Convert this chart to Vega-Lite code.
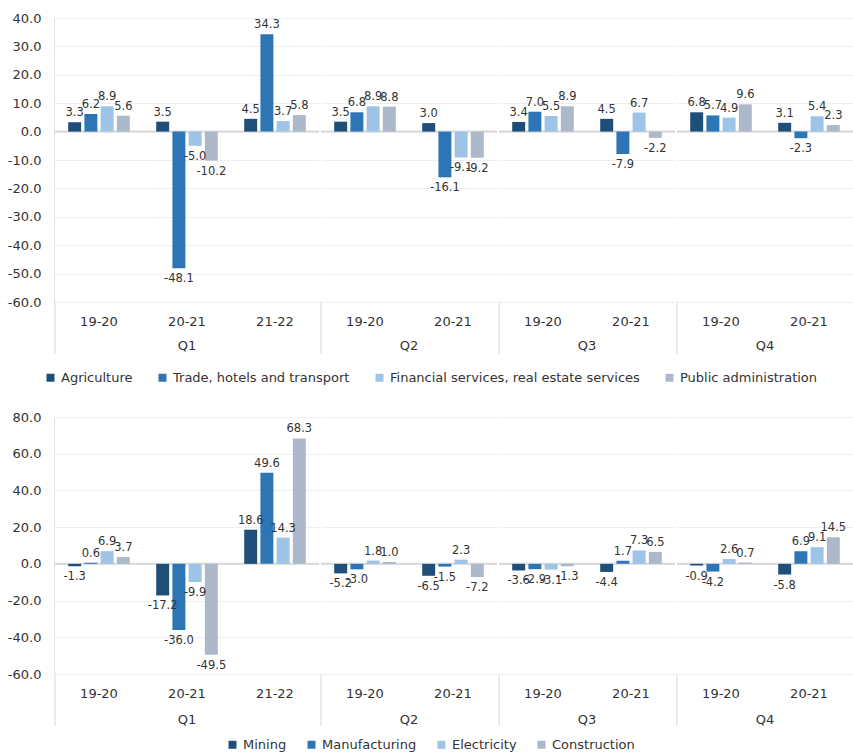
{
  "$schema": "https://vega.github.io/schema/vega-lite/v6.json",
  "padding": {"left": 7, "top": 12, "right": 0, "bottom": 0},
  "background": "white",
  "config": {
    "font": "DejaVu Sans",
    "view": {"stroke": null},
    "axis": {"labelFont": "DejaVu Sans", "labelColor": "#333333", "labelFontSize": 13, "title": null},
    "header": {"labelFont": "DejaVu Sans", "labelColor": "#333333", "labelFontSize": 13, "labelOrient": "bottom", "labelPadding": -15, "title": null},
    "legend": {"labelFont": "DejaVu Sans", "labelColor": "#333333", "labelFontSize": 13, "labelLimit": 500, "symbolType": "square", "symbolSize": 64, "symbolStrokeWidth": 0, "labelOffset": 4, "columnPadding": 22, "orient": "bottom", "direction": "horizontal", "title": null, "offset": 16, "layout": {"bottom": {"anchor": "middle"}}},
    "concat": {"spacing": 26}
  },
  "resolve": {"scale": {"color": "independent"}, "legend": {"color": "independent"}},
  "datasets": {
    "top": [
      {"quarter": "Q1", "year": "19-20", "sector": "Agriculture", "value": 3.3},
      {"quarter": "Q1", "year": "19-20", "sector": "Trade, hotels and transport", "value": 6.2},
      {"quarter": "Q1", "year": "19-20", "sector": "Financial services, real estate services", "value": 8.9},
      {"quarter": "Q1", "year": "19-20", "sector": "Public administration", "value": 5.6},
      {"quarter": "Q1", "year": "20-21", "sector": "Agriculture", "value": 3.5},
      {"quarter": "Q1", "year": "20-21", "sector": "Trade, hotels and transport", "value": -48.1},
      {"quarter": "Q1", "year": "20-21", "sector": "Financial services, real estate services", "value": -5.0},
      {"quarter": "Q1", "year": "20-21", "sector": "Public administration", "value": -10.2},
      {"quarter": "Q1", "year": "21-22", "sector": "Agriculture", "value": 4.5},
      {"quarter": "Q1", "year": "21-22", "sector": "Trade, hotels and transport", "value": 34.3},
      {"quarter": "Q1", "year": "21-22", "sector": "Financial services, real estate services", "value": 3.7},
      {"quarter": "Q1", "year": "21-22", "sector": "Public administration", "value": 5.8},
      {"quarter": "Q2", "year": "19-20", "sector": "Agriculture", "value": 3.5},
      {"quarter": "Q2", "year": "19-20", "sector": "Trade, hotels and transport", "value": 6.8},
      {"quarter": "Q2", "year": "19-20", "sector": "Financial services, real estate services", "value": 8.9},
      {"quarter": "Q2", "year": "19-20", "sector": "Public administration", "value": 8.8},
      {"quarter": "Q2", "year": "20-21", "sector": "Agriculture", "value": 3.0},
      {"quarter": "Q2", "year": "20-21", "sector": "Trade, hotels and transport", "value": -16.1},
      {"quarter": "Q2", "year": "20-21", "sector": "Financial services, real estate services", "value": -9.1},
      {"quarter": "Q2", "year": "20-21", "sector": "Public administration", "value": -9.2},
      {"quarter": "Q3", "year": "19-20", "sector": "Agriculture", "value": 3.4},
      {"quarter": "Q3", "year": "19-20", "sector": "Trade, hotels and transport", "value": 7.0},
      {"quarter": "Q3", "year": "19-20", "sector": "Financial services, real estate services", "value": 5.5},
      {"quarter": "Q3", "year": "19-20", "sector": "Public administration", "value": 8.9},
      {"quarter": "Q3", "year": "20-21", "sector": "Agriculture", "value": 4.5},
      {"quarter": "Q3", "year": "20-21", "sector": "Trade, hotels and transport", "value": -7.9},
      {"quarter": "Q3", "year": "20-21", "sector": "Financial services, real estate services", "value": 6.7},
      {"quarter": "Q3", "year": "20-21", "sector": "Public administration", "value": -2.2},
      {"quarter": "Q4", "year": "19-20", "sector": "Agriculture", "value": 6.8},
      {"quarter": "Q4", "year": "19-20", "sector": "Trade, hotels and transport", "value": 5.7},
      {"quarter": "Q4", "year": "19-20", "sector": "Financial services, real estate services", "value": 4.9},
      {"quarter": "Q4", "year": "19-20", "sector": "Public administration", "value": 9.6},
      {"quarter": "Q4", "year": "20-21", "sector": "Agriculture", "value": 3.1},
      {"quarter": "Q4", "year": "20-21", "sector": "Trade, hotels and transport", "value": -2.3},
      {"quarter": "Q4", "year": "20-21", "sector": "Financial services, real estate services", "value": 5.4},
      {"quarter": "Q4", "year": "20-21", "sector": "Public administration", "value": 2.3}
    ],
    "bottom": [
      {"quarter": "Q1", "year": "19-20", "sector": "Mining", "value": -1.3},
      {"quarter": "Q1", "year": "19-20", "sector": "Manufacturing", "value": 0.6},
      {"quarter": "Q1", "year": "19-20", "sector": "Electricity", "value": 6.9},
      {"quarter": "Q1", "year": "19-20", "sector": "Construction", "value": 3.7},
      {"quarter": "Q1", "year": "20-21", "sector": "Mining", "value": -17.2},
      {"quarter": "Q1", "year": "20-21", "sector": "Manufacturing", "value": -36.0},
      {"quarter": "Q1", "year": "20-21", "sector": "Electricity", "value": -9.9},
      {"quarter": "Q1", "year": "20-21", "sector": "Construction", "value": -49.5},
      {"quarter": "Q1", "year": "21-22", "sector": "Mining", "value": 18.6},
      {"quarter": "Q1", "year": "21-22", "sector": "Manufacturing", "value": 49.6},
      {"quarter": "Q1", "year": "21-22", "sector": "Electricity", "value": 14.3},
      {"quarter": "Q1", "year": "21-22", "sector": "Construction", "value": 68.3},
      {"quarter": "Q2", "year": "19-20", "sector": "Mining", "value": -5.2},
      {"quarter": "Q2", "year": "19-20", "sector": "Manufacturing", "value": -3.0},
      {"quarter": "Q2", "year": "19-20", "sector": "Electricity", "value": 1.8},
      {"quarter": "Q2", "year": "19-20", "sector": "Construction", "value": 1.0},
      {"quarter": "Q2", "year": "20-21", "sector": "Mining", "value": -6.5},
      {"quarter": "Q2", "year": "20-21", "sector": "Manufacturing", "value": -1.5},
      {"quarter": "Q2", "year": "20-21", "sector": "Electricity", "value": 2.3},
      {"quarter": "Q2", "year": "20-21", "sector": "Construction", "value": -7.2},
      {"quarter": "Q3", "year": "19-20", "sector": "Mining", "value": -3.6},
      {"quarter": "Q3", "year": "19-20", "sector": "Manufacturing", "value": -2.9},
      {"quarter": "Q3", "year": "19-20", "sector": "Electricity", "value": -3.1},
      {"quarter": "Q3", "year": "19-20", "sector": "Construction", "value": -1.3},
      {"quarter": "Q3", "year": "20-21", "sector": "Mining", "value": -4.4},
      {"quarter": "Q3", "year": "20-21", "sector": "Manufacturing", "value": 1.7},
      {"quarter": "Q3", "year": "20-21", "sector": "Electricity", "value": 7.3},
      {"quarter": "Q3", "year": "20-21", "sector": "Construction", "value": 6.5},
      {"quarter": "Q4", "year": "19-20", "sector": "Mining", "value": -0.9},
      {"quarter": "Q4", "year": "19-20", "sector": "Manufacturing", "value": -4.2},
      {"quarter": "Q4", "year": "19-20", "sector": "Electricity", "value": 2.6},
      {"quarter": "Q4", "year": "19-20", "sector": "Construction", "value": 0.7},
      {"quarter": "Q4", "year": "20-21", "sector": "Mining", "value": -5.8},
      {"quarter": "Q4", "year": "20-21", "sector": "Manufacturing", "value": 6.9},
      {"quarter": "Q4", "year": "20-21", "sector": "Electricity", "value": 9.1},
      {"quarter": "Q4", "year": "20-21", "sector": "Construction", "value": 14.5}
    ]
  },
  "vconcat": [
    {
      "data": {"name": "top"},
      "transform": [{"calculate": "replace(format(datum.value, '.1f'), '\u2212', '-')", "as": "label"}],
      "facet": {"column": {"field": "quarter", "type": "nominal", "header": {"labelOrient": "bottom", "title": null}}},
      "spacing": 0,
      "resolve": {"scale": {"x": "independent", "xOffset": "independent"}},
      "spec": {
        "width": {"step": 88, "for": "position"},
        "height": 284,
        "encoding": {
          "x": {"field": "year", "type": "nominal", "scale": {"paddingInner": 0.3, "paddingOuter": 0.15},
                "axis": {"ticks": false, "domain": false, "labelAngle": 0, "labelPadding": 13, "grid": false, "title": null}},
          "y": {"field": "value", "type": "quantitative",
                "scale": {"domain": [-60, 40], "nice": false, "zero": false},
                "axis": {"values": [-60, -50, -40, -30, -20, -10, 0, 10, 20, 30, 40], "format": ".1f", "labelExpr": "replace(datum.label, '\u2212', '-')", "ticks": false, "labelPadding": 13,
                         "grid": true, "gridColor": "#eeeeee", "domain": true, "domainColor": "#e0e0e0", "title": null}}
        },
        "layer": [
          {
            "transform": [{"filter": "datum.year === '19-20' && datum.sector === 'Agriculture'"}],
            "mark": {"type": "rule", "color": "#d9d9d9", "strokeWidth": 2},
            "encoding": {"x": null, "y": {"datum": 0, "type": "quantitative"}}
          },
          {
            "mark": {"type": "bar"},
            "encoding": {
              "xOffset": {"field": "sector", "type": "nominal", "sort": ["Agriculture", "Trade, hotels and transport", "Financial services, real estate services", "Public administration"], "scale": {"paddingInner": 0.2}},
              "color": {"field": "sector", "type": "nominal",
                        "scale": {"domain": ["Agriculture", "Trade, hotels and transport", "Financial services, real estate services", "Public administration"],
                                  "range": ["#1F4E79", "#2E75B6", "#9DC3E6", "#ADB9CA"]},
                        "legend": {"title": null, "columnPadding": 23}}
            }
          },
          {
            "transform": [{"filter": "datum.value >= 0"}],
            "mark": {"type": "text", "baseline": "bottom", "dy": -4, "fontSize": 11.5, "color": "#333333"},
            "encoding": {
              "xOffset": {"field": "sector", "type": "nominal", "sort": ["Agriculture", "Trade, hotels and transport", "Financial services, real estate services", "Public administration"]},
              "text": {"field": "label", "type": "nominal"}
            }
          },
          {
            "transform": [{"filter": "datum.value < 0"}],
            "mark": {"type": "text", "baseline": "top", "dy": 5, "fontSize": 11.5, "color": "#333333"},
            "encoding": {
              "xOffset": {"field": "sector", "type": "nominal", "sort": ["Agriculture", "Trade, hotels and transport", "Financial services, real estate services", "Public administration"]},
              "text": {"field": "label", "type": "nominal"}
            }
          },
          {
            "transform": [{"filter": "datum.year === '19-20' && datum.sector === 'Agriculture'"}],
            "mark": {"type": "rule", "color": "#d9d9d9", "strokeWidth": 1},
            "encoding": {
              "x": {"field": "year", "type": "nominal", "bandPosition": -0.2143},
              "y": {"datum": -60, "type": "quantitative"},
              "y2": {"datum": -78.3}
            }
          }
        ]
      }
    },
    {
      "data": {"name": "bottom"},
      "transform": [{"calculate": "replace(format(datum.value, '.1f'), '\u2212', '-')", "as": "label"}],
      "facet": {"column": {"field": "quarter", "type": "nominal", "header": {"labelOrient": "bottom", "title": null, "labelPadding": -13}}},
      "spacing": 0,
      "resolve": {"scale": {"x": "independent", "xOffset": "independent"}},
      "spec": {
        "width": {"step": 88, "for": "position"},
        "height": 257,
        "encoding": {
          "x": {"field": "year", "type": "nominal", "scale": {"paddingInner": 0.3, "paddingOuter": 0.15},
                "axis": {"ticks": false, "domain": false, "labelAngle": 0, "labelPadding": 13, "grid": false, "title": null}},
          "y": {"field": "value", "type": "quantitative",
                "scale": {"domain": [-60, 80], "nice": false, "zero": false},
                "axis": {"values": [-60, -40, -20, 0, 20, 40, 60, 80], "format": ".1f", "labelExpr": "replace(datum.label, '\u2212', '-')", "ticks": false, "labelPadding": 13,
                         "grid": true, "gridColor": "#eeeeee", "domain": true, "domainColor": "#e0e0e0", "title": null}}
        },
        "layer": [
          {
            "transform": [{"filter": "datum.year === '19-20' && datum.sector === 'Mining'"}],
            "mark": {"type": "rule", "color": "#d9d9d9", "strokeWidth": 2},
            "encoding": {"x": null, "y": {"datum": 0, "type": "quantitative"}}
          },
          {
            "mark": {"type": "bar"},
            "encoding": {
              "xOffset": {"field": "sector", "type": "nominal", "sort": ["Mining", "Manufacturing", "Electricity", "Construction"], "scale": {"paddingInner": 0.2}},
              "color": {"field": "sector", "type": "nominal",
                        "scale": {"domain": ["Mining", "Manufacturing", "Electricity", "Construction"],
                                  "range": ["#1F4E79", "#2E75B6", "#9DC3E6", "#ADB9CA"]},
                        "legend": {"title": null, "columnPadding": 18, "offset": 11}}
            }
          },
          {
            "transform": [{"filter": "datum.value >= 0"}],
            "mark": {"type": "text", "baseline": "bottom", "dy": -4, "fontSize": 11.5, "color": "#333333"},
            "encoding": {
              "xOffset": {"field": "sector", "type": "nominal", "sort": ["Mining", "Manufacturing", "Electricity", "Construction"]},
              "text": {"field": "label", "type": "nominal"}
            }
          },
          {
            "transform": [{"filter": "datum.value < 0"}],
            "mark": {"type": "text", "baseline": "top", "dy": 5, "fontSize": 11.5, "color": "#333333"},
            "encoding": {
              "xOffset": {"field": "sector", "type": "nominal", "sort": ["Mining", "Manufacturing", "Electricity", "Construction"]},
              "text": {"field": "label", "type": "nominal"}
            }
          },
          {
            "transform": [{"filter": "datum.year === '19-20' && datum.sector === 'Mining'"}],
            "mark": {"type": "rule", "color": "#d9d9d9", "strokeWidth": 1},
            "encoding": {
              "x": {"field": "year", "type": "nominal", "bandPosition": -0.2143},
              "y": {"datum": -60, "type": "quantitative"},
              "y2": {"datum": -88.3}
            }
          }
        ]
      }
    }
  ]
}
